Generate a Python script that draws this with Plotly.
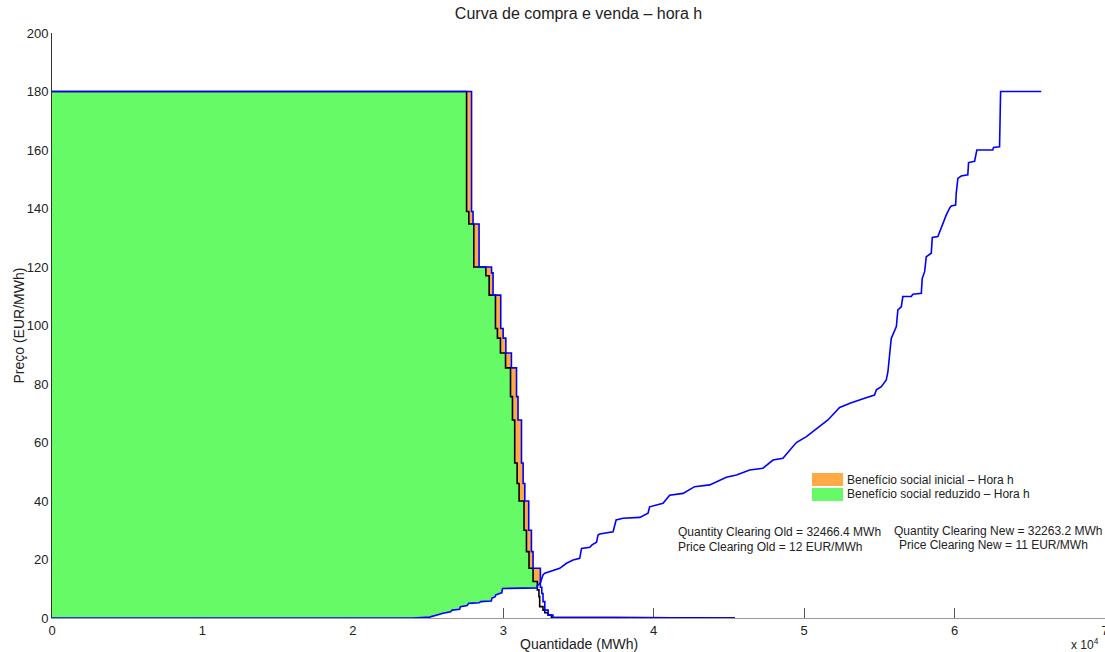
import plotly.graph_objects as go

# ---------------- data (quantities in MWh, prices in EUR/MWh) ----------------
supply_points = [
    (0, 0), (24000, 0), (25100, 0.3), (25400, 0.8), (26000, 1.6), (26500, 2.1), (26600, 2.7),
    (27100, 3.0), (27150, 3.9), (27600, 4.3), (27700, 5.0), (28400, 5.2), (28500, 5.6),
    (29200, 5.8), (29250, 6.8), (29450, 7.2), (29500, 7.9), (29750, 8.4), (29900, 8.6),
    (29950, 10.1), (32260, 10.3), (32263, 11.0), (32466, 12.0), (32640, 14.7), (32760, 15.3),
    (33750, 17.0), (33870, 17.5), (34200, 18.7), (34640, 19.8), (35080, 20.4), (35200, 23.8),
    (35750, 24.2), (35900, 25.0), (36200, 25.9), (36300, 28.4), (36410, 28.7), (37300, 29.5),
    (37500, 33.5), (37960, 34.1), (39080, 34.4), (39620, 35.8), (39730, 38.0), (40620, 39.2),
    (41060, 42.0), (41950, 42.6), (42720, 44.9), (43720, 45.5), (44830, 48.1), (45500, 48.9),
    (46380, 50.6), (47260, 51.2), (47930, 54.0), (48590, 54.6), (49480, 60.0), (50150, 62.0),
    (51030, 65.4), (51580, 67.7), (52360, 72.0), (53090, 73.5), (54020, 75.1), (54680, 76.2),
    (54800, 78.0), (55130, 79.1), (55460, 81.4), (55570, 84.2), (55680, 89.9), (55790, 95.6),
    (56130, 99.6), (56230, 105.3), (56460, 106.4), (56560, 109.9), (57120, 109.9), (57230, 110.7),
    (57790, 111.0), (57850, 116.1), (58010, 118.4), (58120, 123.5), (58450, 124.7), (58520, 130.1),
    (58890, 130.4), (59050, 132.5), (59220, 135.0), (59450, 137.8), (59670, 140.1), (59780, 140.9),
    (60070, 141.2), (60110, 145.2), (60220, 150.3), (60440, 151.1), (60880, 151.5), (60930, 155.7),
    (61330, 156.1), (61480, 160.0), (62540, 160.0), (62590, 160.9), (62990, 161.1), (63040, 171.4),
    (63060, 180.0), (65760, 180.0),
]

demand_old_points = [
    (0, 180), (27890, 180), (27890, 139), (27990, 139), (27990, 134.7), (28390, 134.7),
    (28390, 120), (29220, 120), (29220, 118), (29320, 118), (29320, 110.4), (29830, 110.4),
    (29830, 99), (29990, 99), (29990, 95.7), (30170, 95.7), (30170, 90.6), (30540, 90.6),
    (30540, 85.5), (30880, 85.5), (30880, 75.7), (30980, 75.7), (30980, 67.7), (31210, 67.7),
    (31210, 53), (31320, 53), (31320, 46), (31430, 46), (31430, 40), (31690, 40), (31690, 30),
    (31870, 30), (31870, 22.7), (31980, 22.7), (31980, 17), (32466, 17), (32466, 10.5),
    (32560, 10.5), (32560, 8.4), (32640, 8.4), (32640, 5.6), (32760, 5.6), (32760, 2.7),
    (32980, 2.7), (32980, 1.0), (33300, 1.0), (33300, 0.2), (33700, 0.2), (33700, 0), (45400, 0),
]

demand_new_points = [
    (0, 180), (27560, 180), (27560, 139), (27710, 139), (27710, 134.7), (28040, 134.7),
    (28040, 120), (28840, 120), (28840, 117), (29060, 117), (29060, 110.4), (29480, 110.4),
    (29480, 99), (29610, 99), (29610, 95.7), (29810, 95.7), (29810, 90.6), (30150, 90.6),
    (30150, 85.5), (30480, 85.5), (30480, 75.7), (30610, 75.7), (30610, 67.7), (30760, 67.7),
    (30760, 53), (30920, 53), (30920, 46), (31050, 46), (31050, 40), (31380, 40), (31380, 30),
    (31540, 30), (31540, 22.7), (31710, 22.7), (31710, 17), (31980, 17), (31980, 12.5),
    (32263, 12.5), (32263, 9.6), (32370, 9.6), (32370, 7.3), (32420, 7.3), (32420, 3.9),
    (32640, 3.9), (32640, 2.7), (32760, 2.7), (32760, 1.8), (32980, 1.8), (32980, 1.0),
    (33200, 1.0), (33200, 0.2), (33300, 0.2), (33300, 0), (45400, 0),
]

quantity_clearing_old = 32466.4
price_clearing_old = 12
quantity_clearing_new = 32263.2
price_clearing_new = 11

x_tick_values = [0, 10000, 20000, 30000, 40000, 50000, 60000, 70000]
x_tick_labels = ["0", "1", "2", "3", "4", "5", "6", "7"]
y_tick_values = [0, 20, 40, 60, 80, 100, 120, 140, 160, 180, 200]

legend_labels = ["Benefício social inicial – Hora h", "Benefício social reduzido – Hora h"]

ORANGE = "#FFAA44"
GREEN = "#66FA66"
FONT = "Liberation Sans, Arial, sans-serif"


def xy(points):
    return [p[0] for p in points], [p[1] for p in points]


def surplus_polygon(demand, supply, qc, pc):
    top = [p for p in demand if p[0] <= qc and p[1] >= pc]
    bottom = [p for p in supply if p[0] <= qc and p[1] <= pc]
    poly = top + [(qc, pc)] + bottom[::-1]
    return xy(poly)


fig = go.Figure()

ox, oy = surplus_polygon(demand_old_points, supply_points, quantity_clearing_old, price_clearing_old)
fig.add_trace(go.Scatter(x=ox, y=oy, fill="toself", fillcolor=ORANGE, mode="none",
                         name=legend_labels[0], showlegend=False, hoverinfo="skip"))
gx, gy = surplus_polygon(demand_new_points, supply_points, quantity_clearing_new, price_clearing_new)
fig.add_trace(go.Scatter(x=gx, y=gy, fill="toself", fillcolor=GREEN, mode="none",
                         name=legend_labels[1], showlegend=False, hoverinfo="skip"))

nx, ny = xy(demand_new_points)
fig.add_trace(go.Scatter(x=nx, y=ny, mode="lines", line=dict(color="#000000", width=1.6),
                         name="Procura reduzida", showlegend=False))
sx, sy = xy(supply_points)
fig.add_trace(go.Scatter(x=sx, y=sy, mode="lines", line=dict(color="#0000FF", width=1.6),
                         name="Oferta", showlegend=False))
dx, dy = xy(demand_old_points)
fig.add_trace(go.Scatter(x=dx, y=dy, mode="lines", line=dict(color="#0000FF", width=1.6),
                         name="Procura inicial", showlegend=False))

W, H = 1105, 652
L, R, T, B = 52, 0, 33, 34
pw, ph = W - L - R, H - T - B


def px_x(px):
    return (px - L) / pw


def px_y(py):
    return (H - B - py) / ph


shapes = [
    dict(type="rect", xref="paper", yref="paper", x0=px_x(812), x1=px_x(843),
         y0=px_y(486), y1=px_y(473), fillcolor=ORANGE, line=dict(width=0)),
    dict(type="rect", xref="paper", yref="paper", x0=px_x(812), x1=px_x(843),
         y0=px_y(501), y1=px_y(488), fillcolor=GREEN, line=dict(width=0)),
]

txt = dict(size=12, color="#222222", family=FONT)
annotations = [
    dict(text=legend_labels[0], xref="paper", yref="paper", x=px_x(845), y=px_y(479.5),
         xanchor="left", yanchor="middle", showarrow=False, font=txt),
    dict(text=legend_labels[1], xref="paper", yref="paper", x=px_x(845), y=px_y(494),
         xanchor="left", yanchor="middle", showarrow=False, font=txt),
    dict(text=f"Quantity Clearing Old = {quantity_clearing_old} MWh", xref="paper", yref="paper",
         x=px_x(676), y=px_y(532), xanchor="left", yanchor="middle", showarrow=False, font=txt),
    dict(text=f"Price Clearing Old = {price_clearing_old} EUR/MWh", xref="paper", yref="paper",
         x=px_x(676), y=px_y(547), xanchor="left", yanchor="middle", showarrow=False, font=txt),
    dict(text=f"Quantity Clearing New = {quantity_clearing_new} MWh", xref="paper", yref="paper",
         x=px_x(892), y=px_y(531), xanchor="left", yanchor="middle", showarrow=False, font=txt),
    dict(text=f"Price Clearing New = {price_clearing_new} EUR/MWh", xref="paper", yref="paper",
         x=px_x(897), y=px_y(545), xanchor="left", yanchor="middle", showarrow=False, font=txt),
    dict(text="Quantidade (MWh)", xref="paper", yref="paper", x=0.5, y=0, yshift=-16,
         xanchor="center", yanchor="top", showarrow=False,
         font=dict(size=14, color="#222222", family=FONT)),
    dict(text="Preço (EUR/MWh)", xref="paper", yref="paper", x=0, xshift=-34, y=0.5,
         xanchor="center", yanchor="middle", textangle=-90, showarrow=False,
         font=dict(size=14, color="#222222", family=FONT)),
    dict(text="x 10<sup>4</sup>", xref="paper", yref="paper", x=1, xshift=-4, y=0, yshift=-16,
         xanchor="right", yanchor="top", showarrow=False,
         font=dict(size=12, color="#222222", family=FONT)),
]

fig.update_layout(
    width=W, height=H,
    margin=dict(l=L, r=R, t=T, b=B, pad=0, autoexpand=False),
    paper_bgcolor="white", plot_bgcolor="white",
    title=dict(text="Curva de compra e venda – hora h", x=0.5, xref="paper", y=1, yref="container",
               yanchor="top", pad=dict(t=8),
               font=dict(size=16, color="#222222", family=FONT)),
    showlegend=False,
    shapes=shapes,
    annotations=annotations,
    font=dict(family=FONT, size=13, color="#222222"),
)

fig.update_xaxes(
    range=[0, 70000], tickvals=x_tick_values, ticktext=x_tick_labels,
    ticks="inside", ticklen=10, tickcolor="#555555", tickwidth=1,
    showline=True, linecolor="#999999", linewidth=1,
    showgrid=False, zeroline=False, layer="below traces",
    ticklabeloverflow="allow", automargin=False,
    tickfont=dict(size=13, color="#222222", family=FONT),
)
fig.update_yaxes(
    range=[0, 200], tickvals=y_tick_values,
    ticks="inside", ticklen=10, tickcolor="#999999", tickwidth=1,
    showline=True, linecolor="#333333", linewidth=1,
    showgrid=False, zeroline=False, layer="below traces", automargin=False,
    tickfont=dict(size=13, color="#222222", family=FONT),
)

fig.write_html("out.html")
